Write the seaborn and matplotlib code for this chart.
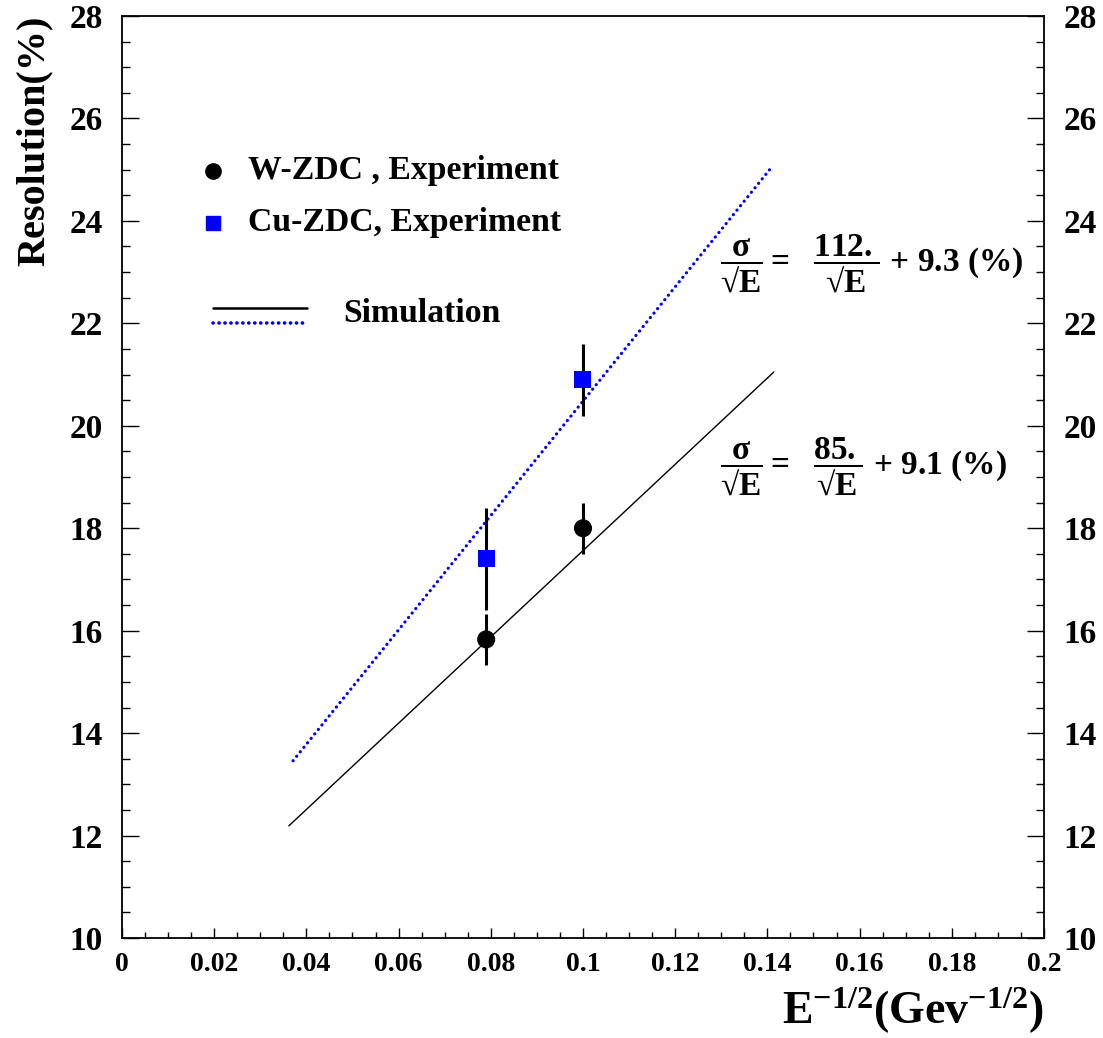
import numpy as np
import pandas as pd
import seaborn as sns
import matplotlib.pyplot as plt
from matplotlib.ticker import MultipleLocator, FormatStrFormatter

# measured points
w_x = [0.079, 0.100]
w_y = [15.83, 18.0]
w_err = [0.5, 0.5]

cu_x = [0.079, 0.100]
cu_y = [17.4, 20.9]
cu_err = [1.0, 0.7]

# simulation lines (end points)
w_sim_x = [0.0362, 0.1414]
w_sim_y = [12.19, 21.05]
cu_sim_x = [0.0371, 0.1412]
cu_sim_y = [13.46, 25.08]

y_ticks = [10, 12, 14, 16, 18, 20, 22, 24, 26, 28]
x_ticks = [0, 0.02, 0.04, 0.06, 0.08, 0.1, 0.12, 0.14, 0.16, 0.18, 0.2]
x_ticklabels = ["0", "0.02", "0.04", "0.06", "0.08", "0.1", "0.12", "0.14", "0.16", "0.18", "0.2"]

sns.set_theme(style="ticks")
plt.rcParams["font.family"] = ["Liberation Serif", "DejaVu Serif"]
plt.rcParams["font.weight"] = "bold"
plt.rcParams["text.color"] = "black"
plt.rcParams["axes.labelcolor"] = "black"
plt.rcParams["xtick.color"] = "black"
plt.rcParams["ytick.color"] = "black"
plt.rcParams["mathtext.fontset"] = "custom"
plt.rcParams["mathtext.rm"] = "Liberation Serif:bold"
plt.rcParams["mathtext.bf"] = "Liberation Serif:bold"
plt.rcParams["mathtext.it"] = "Liberation Serif:bold"
plt.rcParams["mathtext.default"] = "bf"

fig = plt.figure(figsize=(11.03, 10.38), dpi=100)
ax = fig.add_axes([0.1106, 0.0963, 0.8359, 0.8883])

sim_w = pd.DataFrame({"x": w_sim_x, "y": w_sim_y})
sim_cu = pd.DataFrame({"x": cu_sim_x, "y": cu_sim_y})
sns.lineplot(data=sim_w, x="x", y="y", ax=ax, color="black", lw=1.0)
sns.lineplot(data=sim_cu, x="x", y="y", ax=ax, color="blue", lw=2.3,
             dashes=False)
ax.lines[-1].set_linestyle((0, (0.05, 1.75)))
ax.lines[-1].set_dash_capstyle("round")

ax.errorbar(cu_x, cu_y, yerr=cu_err, fmt="none", ecolor="black", elinewidth=2.2, capsize=0)
ax.errorbar(w_x, w_y, yerr=w_err, fmt="none", ecolor="black", elinewidth=2.2, capsize=0)
sns.scatterplot(x=cu_x, y=cu_y, ax=ax, marker="s", s=150, color="blue",
                edgecolor="none", zorder=5)
sns.scatterplot(x=w_x, y=w_y, ax=ax, marker="o", s=170, color="black",
                edgecolor="none", zorder=5)

ax.set_xlim(0, 0.2)
ax.set_ylim(10, 28)
ax.set_xticks(x_ticks)
ax.set_xticklabels(x_ticklabels)
ax.set_yticks(y_ticks)
ax.yaxis.set_major_formatter(FormatStrFormatter("%d"))
ax.xaxis.set_minor_locator(MultipleLocator(0.005))
ax.yaxis.set_minor_locator(MultipleLocator(0.5))
ax.tick_params(axis="y", which="both", direction="in", left=True, right=True,
               labelleft=True, labelright=True, labelsize=24, width=1.0, color="black")
ax.tick_params(axis="y", which="major", length=12, pad=14)
ax.tick_params(axis="y", which="minor", length=6)
ax.tick_params(axis="x", which="both", direction="in", bottom=True, top=False,
               labelsize=20, width=1.0, color="black")
ax.tick_params(axis="x", which="major", length=7, pad=10)
ax.tick_params(axis="x", which="minor", length=4)
for lab in ax.get_xticklabels() + ax.get_yticklabels():
    lab.set_fontweight("bold")
for sp in ax.spines.values():
    sp.set_color("black")
    sp.set_linewidth(1.3)

ax.set_xlabel(r"$\mathbf{E^{-1/2}(Gev^{-1/2})}$", fontsize=33, loc="right", labelpad=6)
ax.set_ylabel("Resolution(%)", fontsize=29, fontweight="bold", loc="top", labelpad=12)

# legend drawn by hand like the original
tr = ax.transAxes
ax.plot([0.0987], [0.832], "o", ms=11, color="black", transform=tr)
ax.plot([0.0987], [0.7755], "s", ms=10, color="blue", transform=tr)
ax.text(0.1367, 0.832, "W-ZDC , Experiment", transform=tr, fontsize=24.3,
        fontweight="bold", va="center", ha="left")
ax.text(0.1367, 0.7755, "Cu-ZDC, Experiment", transform=tr, fontsize=24.3,
        fontweight="bold", va="center", ha="left")
ax.plot([0.0987, 0.2007], [0.683, 0.683], color="black", lw=1.8, transform=tr)
ax.plot([0.0987, 0.2007], [0.667, 0.667], color="blue", lw=2.6, transform=tr,
        linestyle=(0, (0.05, 1.6)), dash_capstyle="round")
ax.text(0.2397, 0.677, "Simulation", transform=tr, fontsize=24.3,
        fontweight="bold", va="center", ha="left")

ax.text(0.1297, 23.16, "$\\dfrac{\\sigma}{\u221aE}=\\ \\ \\dfrac{112.}{\u221aE}$ + 9.3 (%)",
        fontsize=24, fontweight="bold", va="center", ha="left")
ax.text(0.1297, 19.2, "$\\dfrac{\\sigma}{\u221aE}=\\ \\ \\dfrac{85.}{\u221aE}$ + 9.1 (%)",
        fontsize=24, fontweight="bold", va="center", ha="left")

fig.savefig("out.png", dpi=100, facecolor="white")
